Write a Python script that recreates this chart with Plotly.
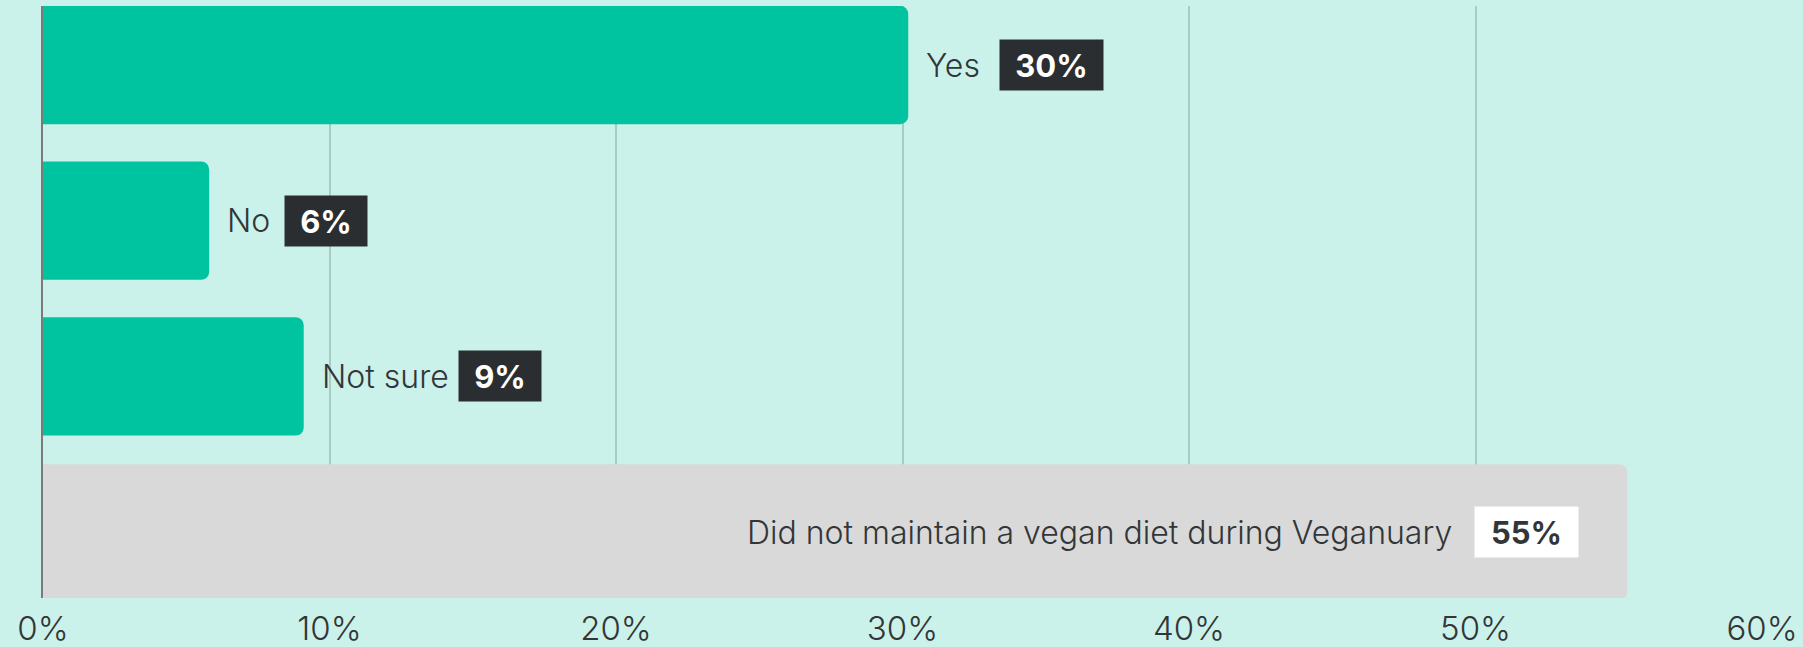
import plotly.graph_objects as go

# values
categories = ['Yes', 'No', 'Not sure', 'Did not maintain a vegan diet during Veganuary']
shares = [30.2, 5.8, 9.1, 55.3]          # bar lengths (%)
share_labels = ['30%', '6%', '9%', '55%']  # rounded figures shown in the boxes
tick_values = [0, 10, 20, 30, 40, 50, 60]
tick_labels = ['0%', '10%', '20%', '30%', '40%', '50%', '60%']

BG = '#CBF2EA'
TEAL = '#00C4A0'
GREY = '#D9D9D9'
DARK = '#2B2E31'
TEXT = '#333638'
FONT = 'Inter'

# rough Inter glyph widths (em) so the value box can sit just after the label
CHAR_W = {'Y': 0.72, 'e': 0.53, 's': 0.47, 'N': 0.66, 'o': 0.55, 't': 0.33,
          ' ': 0.26, 'u': 0.54, 'r': 0.35}


def text_width(s, size):
    return sum(CHAR_W.get(c, 0.52) for c in s) * size


colors = [TEAL, TEAL, TEAL, GREY]
widths = [0.76, 0.76, 0.76, 0.87]

fig = go.Figure(go.Bar(
    x=shares, y=categories, orientation='h',
    marker=dict(color=colors, line=dict(width=0), cornerradius=8),
    width=widths, hoverinfo='skip',
))

label_size = 32
box_size = 31
for i, (cat, val, lab) in enumerate(zip(categories, shares, share_labels)):
    box_w = 40 + 21 * len(lab)
    if i < 3:
        # label outside the bar, then dark value box
        fig.add_annotation(x=val, y=cat, text=cat, showarrow=False,
                           xanchor='left', xshift=16,
                           font=dict(family=FONT, size=label_size, color=TEXT, weight=300))
        fig.add_annotation(x=val, y=cat, text='<b>' + lab + '</b>', showarrow=False,
                           xanchor='left', xshift=16 + text_width(cat, label_size) + 20,
                           width=box_w - 6, height=44, borderpad=3, align='center',
                           bgcolor=DARK,
                           font=dict(family=FONT, size=box_size, color='white'))
    else:
        # label inside the grey bar, white value box at its right end
        fig.add_annotation(x=val, y=cat, text='<b>' + lab + '</b>', showarrow=False,
                           xanchor='right', xshift=-48,
                           width=box_w - 6, height=44, borderpad=3, align='center',
                           bgcolor='white',
                           font=dict(family=FONT, size=box_size, color=TEXT))
        fig.add_annotation(x=val, y=cat, text=cat, showarrow=False,
                           xanchor='right', xshift=-48 - box_w - 22,
                           font=dict(family=FONT, size=label_size, color=TEXT, weight=300))

fig.update_layout(
    width=1803, height=647,
    paper_bgcolor=BG, plot_bgcolor=BG,
    margin=dict(l=43, r=41, t=6, b=49),
    showlegend=False,
    barmode='overlay',
    xaxis=dict(range=[0, 60], tickvals=tick_values, ticktext=tick_labels,
               showgrid=True, gridcolor='#A9CBC4', gridwidth=2,
               zeroline=False, showline=False, ticks='', automargin=False,
               ticklabelstandoff=8,
               tickfont=dict(family=FONT, size=33, color=TEXT, weight=300)),
    yaxis=dict(range=[3.424, -0.379], showticklabels=False, showgrid=False,
               zeroline=False, showline=True, linecolor='#7A7A7A', linewidth=2,
               ticks='', automargin=False),
)

# drop the page's default body margin so the figure fills the window exactly
fig.write_html('out.html', config={'displayModeBar': False},
               post_script="document.body.style.margin='0';")
